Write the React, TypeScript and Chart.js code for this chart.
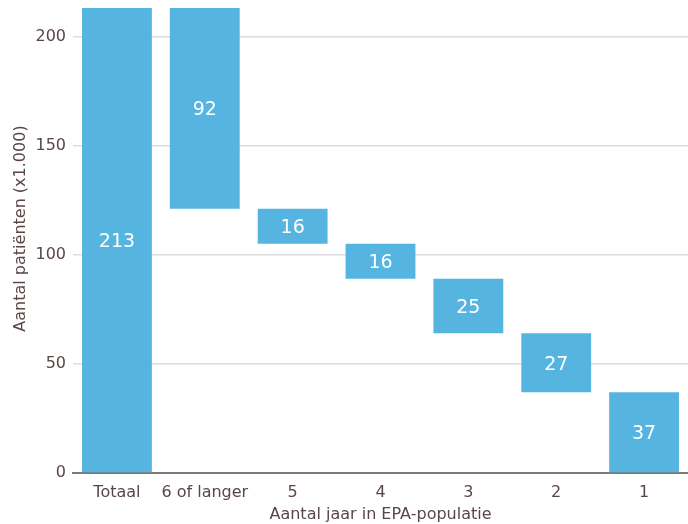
import React, { useEffect, useRef } from "react";
import { Chart, registerables } from "chart.js";

Chart.register(...registerables);

const categories = ["Totaal", "6 of langer", "5", "4", "3", "2", "1"];
const values = [213, 92, 16, 16, 25, 27, 37];
const yTicks = [0, 50, 100, 150, 200];
const yMax = 213;
const yTitle = "Aantal patiënten (x1.000)";
const xTitle = "Aantal jaar in EPA-populatie";

const BAR = "#56b5e0";
const TEXT = "#5a4646";
const FONT = "'DejaVu Sans', sans-serif";

export default function App() {
  const ref = useRef<HTMLCanvasElement | null>(null);
  useEffect(() => {
    if (!ref.current) return;
    // waterfall: first bar is the total, others step down from it
    const total = values[0];
    let top = total;
    const floating = values.map((v, i) => {
      if (i === 0) return [0, v];
      const seg = [top - v, top];
      top -= v;
      return seg;
    });

    const labelPlugin = {
      id: "barLabels",
      afterDatasetsDraw(chart: any) {
        const ctx = chart.ctx;
        const meta = chart.getDatasetMeta(0);
        ctx.save();
        ctx.fillStyle = "#ffffff";
        ctx.font = `19px ${FONT}`;
        ctx.textAlign = "center";
        ctx.textBaseline = "middle";
        meta.data.forEach((el: any, i: number) => {
          const p = el.getProps(["x", "y", "base"], true);
          ctx.fillText(String(values[i]), p.x, (p.y + p.base) / 2 + 2);
        });
        ctx.restore();
      },
    };

    const yTitlePlugin = {
      id: "yTitle",
      afterDraw(chart: any) {
        const ctx = chart.ctx;
        const area = chart.chartArea;
        ctx.save();
        ctx.translate(21, (area.top + area.bottom) / 2 - 12);
        ctx.rotate(-Math.PI / 2);
        ctx.fillStyle = TEXT;
        ctx.font = `16px ${FONT}`;
        ctx.textAlign = "center";
        ctx.textBaseline = "middle";
        ctx.fillText(yTitle, 0, 0);
        ctx.restore();
      },
    };

    const chart = new Chart(ref.current, {
      type: "bar",
      data: {
        labels: categories,
        datasets: [
          {
            data: floating as any,
            backgroundColor: BAR,
            borderWidth: 0,
            barPercentage: 1,
            categoryPercentage: 0.795,
          },
        ],
      },
      options: {
        animation: false,
        responsive: true,
        maintainAspectRatio: false,
        layout: { padding: { top: 8, right: 0, left: 0, bottom: 0 } },
        plugins: {
          legend: { display: false },
          tooltip: { enabled: false },
        },
        scales: {
          x: {
            grid: { display: false, drawTicks: false },
            border: { display: true, color: "#7a7a7a", width: 2 },
            ticks: {
              color: TEXT,
              font: { family: FONT, size: 16 },
              padding: 10,
              maxRotation: 0,
              minRotation: 0,
              autoSkip: false,
            },
            title: {
              display: true,
              text: xTitle,
              color: TEXT,
              font: { family: FONT, size: 16 },
              padding: { top: 0, bottom: 0 },
            },
            afterFit(scale: any) {
              scale.height = 51;
              scale.paddingLeft = 0;
              scale.paddingRight = 0;
            },
          },
          y: {
            min: 0,
            max: yMax,
            afterBuildTicks(scale: any) {
              scale.ticks = yTicks.map((v) => ({ value: v }));
            },
            grid: {
              color: "#dddddd",
              lineWidth: 1.5,
              drawTicks: false,
            },
            border: { display: false },
            ticks: { color: TEXT, font: { family: FONT, size: 16 }, padding: 7 },
            title: { display: false },
            afterFit(scale: any) {
              scale.width = 73;
              scale.paddingTop = 0;
              scale.paddingBottom = 0;
            },
          },
        },
      },
      plugins: [labelPlugin, yTitlePlugin],
    });
    return () => chart.destroy();
  }, []);

  return (
    <div style={{ position: "absolute", left: 0, top: 0, width: 688, height: 524 }}>
      <canvas ref={ref} />
    </div>
  );
}
